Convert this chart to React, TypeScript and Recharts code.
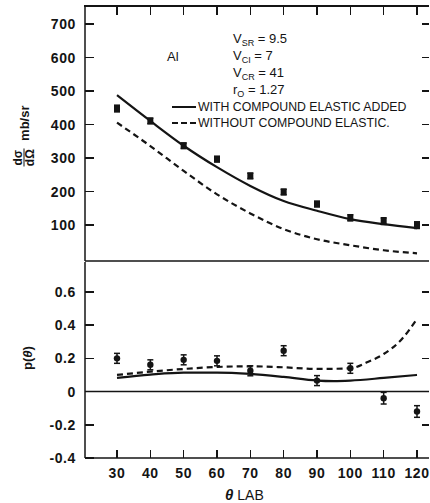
import { ComposedChart, Line, Scatter, ErrorBar, XAxis, YAxis, ReferenceLine } from "recharts";

// measured angles (deg)
const angles = [30, 40, 50, 60, 70, 80, 90, 100, 110, 120];

// upper panel: differential cross section, mb/sr
const sigmaData = [448, 411, 337, 297, 247, 199, 163, 122, 112, 100];
const sigmaErr = [10, 8, 8, 8, 8, 8, 8, 9, 10, 10];
const curveAngles = [30, 40, 50, 60, 70, 80, 90, 100, 110, 120];
const sigmaWith = [488, 411, 337, 273, 217, 172, 143, 118, 103, 91];
const sigmaWithout = [406, 336, 262, 192, 135, 88, 58, 40, 25, 16];

// lower panel: polarization
const polData = [0.2, 0.161, 0.191, 0.185, 0.125, 0.246, 0.066, 0.14, -0.04, -0.12];
const polErr = [0.03, 0.03, 0.03, 0.03, 0.03, 0.03, 0.03, 0.03, 0.035, 0.035];
const polAnglesWith = [30, 40, 50, 60, 70, 80, 90, 95, 100, 110, 120];
const polWith = [0.082, 0.102, 0.114, 0.114, 0.106, 0.088, 0.066, 0.063, 0.066, 0.082, 0.1];
const polAnglesWithout = [30, 40, 50, 60, 70, 80, 90, 100, 105, 110, 115, 120];
const polWithout = [0.1, 0.12, 0.136, 0.148, 0.152, 0.146, 0.136, 0.14, 0.176, 0.226, 0.306, 0.437];

const xTicks = [30, 40, 50, 60, 70, 80, 90, 100, 110, 120];
const sigmaTicks = [100, 200, 300, 400, 500, 600, 700];
const polTicks = [-0.4, -0.2, 0, 0.2, 0.4, 0.6];
const polRightTicks = [-0.2, 0.2, 0.4, 0.6];

const pts = (xs: number[], ys: number[]) => xs.map((x, i) => ({ x, y: ys[i] }));
const ptsErr = (xs: number[], ys: number[], es: number[]) => xs.map((x, i) => ({ x, y: ys[i], err: es[i] }));

const INK = "#141414";
const FONT = "'Liberation Sans', Arial, sans-serif";
const xDomain: [number, number] = [20.4, 123.6];
const sigmaDomain: [number, number] = [-7, 754];
const polDomain: [number, number] = [-0.4, 0.78];

// chart geometry (shared by both panels)
const W = 430;
const M_LEFT = 25;
const Y_AXIS_W = 60;
const M_RIGHT = 1;
const UP_TOP = 6;
const UP_H = 262;
const LOW_H = 241;
const X_AXIS_H = 45;
const plotL = M_LEFT + Y_AXIS_W;
const plotR = W - M_RIGHT;
const upBottom = UP_H - 1;
const lowTop = UP_H;
const lowBottom = UP_H + LOW_H - X_AXIS_H;

const lin = (d: [number, number], r: [number, number]) => (v: number) => r[0] + ((v - d[0]) / (d[1] - d[0])) * (r[1] - r[0]);
const px = lin(xDomain, [plotL, plotR]);
const pyUp = lin(sigmaDomain, [upBottom, UP_TOP]);
const pyLow = lin(polDomain, [lowBottom, lowTop]);

const line15 = { stroke: INK, strokeWidth: 1.5 };
const tickText = { fill: INK, fontSize: 14, fontFamily: FONT, fontWeight: "bold", letterSpacing: 0.6 };

const Square = (p: any) => <rect x={p.cx - 3} y={p.cy - 3.5} width={6} height={7} fill={INK} />;
const Dot = (p: any) => <circle cx={p.cx} cy={p.cy} r={3.2} fill={INK} />;

const fmtPol = (v: number) => (v === 0 ? "0" : v.toFixed(1));
const subStyle = { fontSize: 9, position: "relative" as const, top: 3, lineHeight: 0 };

const Bar = ({ left, top, w, h }: { left: number; top: number; w: number; h: number }) => (
  <div style={{ position: "absolute", left, top, width: w, height: h, background: INK }} />
);

// inward tick marks and the top frame edge
const FrameTicks = () => (
  <>
    <Bar left={plotL - 0.75} top={UP_TOP - 0.75} w={plotR - plotL + 0.75} h={1.5} />
    {xTicks.map((v) => <Bar key={`t${v}`} left={px(v) - 0.75} top={UP_TOP} w={1.5} h={9} />)}
    {xTicks.map((v) => <Bar key={`b${v}`} left={px(v) - 0.75} top={lowBottom - 8} w={1.5} h={8} />)}
    {sigmaTicks.map((v) => <Bar key={`ul${v}`} left={plotL} top={pyUp(v) - 0.75} w={9} h={1.5} />)}
    {sigmaTicks.map((v) => <Bar key={`ur${v}`} left={plotR - 7} top={pyUp(v) - 0.75} w={7} h={1.5} />)}
    {polTicks.map((v) => <Bar key={`ll${v}`} left={plotL} top={pyLow(v) - 0.75} w={9} h={1.5} />)}
    {polRightTicks.map((v) => <Bar key={`lr${v}`} left={plotR - 7} top={pyLow(v) - 0.75} w={7} h={1.5} />)}
  </>
);

const Row = ({ top, main, sub, rest }: { top: number; main: string; sub: string; rest: string }) => (
  <div style={{ position: "absolute", left: 233, top: top - 8, height: 16, lineHeight: "16px", fontSize: 13, whiteSpace: "nowrap" }}>
    {main}
    <span style={subStyle}>{sub}</span>
    {rest}
  </div>
);

export default function App() {
  return (
    <div style={{ position: "absolute", left: 0, top: 0, width: W, height: 503, background: "#fff", fontFamily: FONT, color: INK }}>
      <div style={{ position: "absolute", left: 0, top: 0 }}>
        <ComposedChart width={W} height={UP_H} margin={{ top: UP_TOP, right: M_RIGHT, bottom: 0, left: M_LEFT }}>
          <XAxis dataKey="x" type="number" domain={xDomain} allowDataOverflow ticks={xTicks} height={1} tick={false} tickLine={false} axisLine={line15} />
          <YAxis type="number" domain={sigmaDomain} allowDataOverflow ticks={sigmaTicks} interval={0} width={Y_AXIS_W} tickSize={0} tickMargin={9} tickLine={false} tick={tickText} axisLine={line15} />
          <Line data={pts(curveAngles, sigmaWith)} dataKey="y" type="monotone" stroke={INK} strokeWidth={2.2} dot={false} isAnimationActive={false} />
          <Line data={pts(curveAngles, sigmaWithout)} dataKey="y" type="monotone" stroke={INK} strokeWidth={2.2} strokeDasharray="6 4" dot={false} isAnimationActive={false} />
          <Scatter data={ptsErr(angles, sigmaData, sigmaErr)} dataKey="y" shape={<Square />} isAnimationActive={false}>
            <ErrorBar dataKey="err" direction="y" width={3} stroke={INK} strokeWidth={1.5} />
          </Scatter>
        </ComposedChart>
      </div>
      <div style={{ position: "absolute", left: 0, top: UP_H }}>
        <ComposedChart width={W} height={LOW_H} margin={{ top: 0, right: M_RIGHT, bottom: 0, left: M_LEFT }}>
          <XAxis dataKey="x" type="number" domain={xDomain} allowDataOverflow ticks={xTicks} interval={0} height={X_AXIS_H} tickSize={0} tickMargin={10} tickLine={false} tick={tickText} axisLine={line15} />
          <YAxis type="number" domain={polDomain} allowDataOverflow ticks={polTicks} interval={0} width={Y_AXIS_W} tickSize={0} tickMargin={9} tickLine={false} tick={tickText} tickFormatter={fmtPol} axisLine={line15} />
          <ReferenceLine y={0} stroke={INK} strokeWidth={1.5} />
          <Line data={pts(polAnglesWith, polWith)} dataKey="y" type="monotone" stroke={INK} strokeWidth={2.2} dot={false} isAnimationActive={false} />
          <Line data={pts(polAnglesWithout, polWithout)} dataKey="y" type="monotone" stroke={INK} strokeWidth={2.2} strokeDasharray="6 4" dot={false} isAnimationActive={false} />
          <Scatter data={ptsErr(angles, polData, polErr)} dataKey="y" shape={<Dot />} isAnimationActive={false}>
            <ErrorBar dataKey="err" direction="y" width={3} stroke={INK} strokeWidth={1.5} />
          </Scatter>
        </ComposedChart>
      </div>

      <FrameTicks />

      {/* y axis titles */}
      <div style={{ position: "absolute", left: 24, top: 136, transform: "translate(-50%, -50%) rotate(-90deg)", whiteSpace: "nowrap", display: "flex", alignItems: "center", gap: 8, fontWeight: "bold", fontSize: 13 }}>
        <span style={{ display: "inline-flex", flexDirection: "column", alignItems: "center", lineHeight: "11px", fontSize: 12 }}>
          <span style={{ borderBottom: `1.5px solid ${INK}`, padding: "0 1px" }}>dσ</span>
          <span>dΩ</span>
        </span>
        <span>mb/sr</span>
      </div>
      <div style={{ position: "absolute", left: 27, top: 358, transform: "translate(-50%, -50%) rotate(-90deg)", whiteSpace: "nowrap", fontWeight: "bold", fontSize: 13 }}>
        p(<i>θ</i>)
      </div>
      <div style={{ position: "absolute", left: 225, top: 486, whiteSpace: "nowrap", fontSize: 14, fontWeight: "bold" }}>
        <i style={{ fontSize: 15 }}>θ</i> <span style={{ fontWeight: "normal" }}>LAB</span>
      </div>

      {/* annotations */}
      <div style={{ position: "absolute", left: 167, top: 49, fontSize: 13 }}>Al</div>
      <Row top={39} main="V" sub="SR" rest=" = 9.5" />
      <Row top={56} main="V" sub="CI" rest=" = 7" />
      <Row top={73} main="V" sub="CR" rest=" = 41" />
      <Row top={90} main="r" sub="O" rest=" = 1.27" />

      {/* legend */}
      <div style={{ position: "absolute", left: 172, top: 106, width: 24, borderTop: `2px solid ${INK}` }} />
      <div style={{ position: "absolute", left: 172, top: 122, width: 24, borderTop: `2px dashed ${INK}` }} />
      <div style={{ position: "absolute", left: 198, top: 100, fontSize: 12.3, whiteSpace: "nowrap" }}>WITH COMPOUND ELASTIC ADDED</div>
      <div style={{ position: "absolute", left: 198, top: 116, fontSize: 12.3, whiteSpace: "nowrap" }}>WITHOUT COMPOUND ELASTIC.</div>
    </div>
  );
}
